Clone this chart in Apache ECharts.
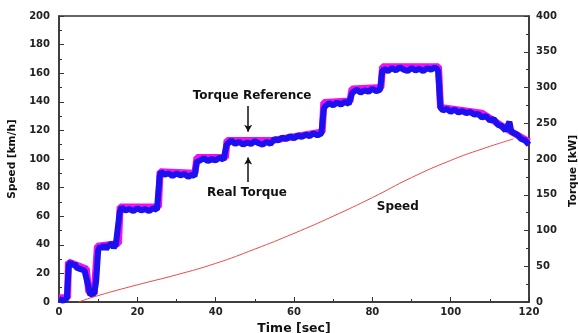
<!DOCTYPE html>
<html>
<head>
<meta charset="utf-8">
<script src="https://cdn.jsdelivr.net/npm/echarts@6/dist/echarts.min.js"></script>
<style>
  html, body { margin: 0; padding: 0; background: #fff; }
  #chart { width: 578px; height: 333px; }
</style>
</head>
<body>
<div id="chart"></div>
<script>
// speed curve, km/h (left axis)
const speedTime = [5, 10, 20, 30, 40, 50, 60, 70, 80, 90, 100, 108, 116];
const speedVal = [0, 4.5, 12, 19, 27, 37, 48, 60, 73, 87, 99, 107, 114];

// real torque, kW (right axis)
const realTime = [
  0, 1, 2, 2.5, 3, 3.5, 4, 4.5, 5, 5.5, 6, 6.5, 7, 7.5, 8, 8.5, 9, 9.5,
  10, 10.5, 11, 11.5, 12, 12.5, 13, 13.5, 14, 14.5, 15, 15.5,
  16, 17, 18, 19, 20, 21, 22, 23, 24, 25, 25.7,
  26, 27, 28, 29, 30, 31, 32, 33, 34, 34.6, 35.2,
  36, 37, 38, 39, 40, 41, 42, 42.8,
  43, 44, 45, 46, 47, 48, 49, 50, 51, 52, 53, 54,
  55, 56, 57, 58, 59, 60, 61, 62, 63, 64, 65, 66, 67, 67.6,
  68, 69, 70, 71, 72, 73, 74, 74.8,
  75, 76, 77, 78, 79, 80, 81, 82, 82.5,
  83, 84, 85, 86, 87, 88, 89, 90, 91, 92, 93, 94, 95, 96, 96.8, 97.4,
  98, 99, 100, 101, 102, 103, 104, 105, 106, 107, 108, 109,
  110, 111, 112, 113, 114, 115, 115.5, 116, 117, 118, 119, 120
];
const realTorque = [
  4, 2, 5, 52, 56, 50, 54, 48, 50, 46, 48, 44, 42, 22, 10, 8, 12, 30,
  72, 78, 74, 80, 74, 78, 76, 82, 76, 80, 78, 126,
  132, 128, 130, 127, 131, 128, 130, 127, 131, 129, 176,
  182, 178, 180, 176, 180, 177, 179, 175, 178, 176, 196,
  198, 201, 197, 200, 198, 202, 199, 220,
  222, 226, 221, 224, 220, 223, 221, 225, 222, 220, 224, 221,
  228, 226, 230, 228, 232, 229, 233, 231, 234, 232, 236, 233, 236, 270,
  274, 278, 275, 279, 276, 280, 277, 292,
  294, 297, 293, 296, 294, 298, 295, 297, 322,
  326, 323, 327, 324, 328, 325, 323, 327, 324, 326, 323, 327, 325, 328, 324, 272,
  268, 270, 266, 269, 265, 267, 264, 266, 262, 263, 258, 260,
  254, 256, 248, 246, 240, 252, 238, 236, 234, 228, 226, 220
];

// torque reference, kW (right axis)
const refTime = [0, 2.2, 2.4, 7, 7.6, 9, 9.8, 15.2, 15.6, 25.4, 25.8, 34.7, 35.2, 42.5, 42.9, 54.5, 67.2, 67.6, 74.3, 74.8, 82.2, 82.6, 96.9, 97.4, 108, 114, 120];
const refTorque = [6, 6, 56, 46, 14, 12, 78, 82, 133, 133, 182, 180, 202, 202, 226, 226, 238, 279, 281, 298, 300, 329, 329, 272, 264, 243, 224];

const xTicks = [0, 20, 40, 60, 80, 100, 120];

const pairs = (xs, ys) => xs.map((x, i) => [x, ys[i]]);

const font = "DejaVu Sans";
const axisColor = "#333";
const labelStyle = { color: "#222", fontFamily: font, fontWeight: "bold", fontSize: 10 };
const titleStyle = { color: "#111", fontFamily: font, fontWeight: "bold", fontSize: 10.5 };
const annoLabel = { show: true, color: "#111", fontFamily: font, fontWeight: "bold", fontSize: 12, position: "inside" };

const chart = echarts.init(document.getElementById("chart"));

const option = {
  animation: false,
  backgroundColor: "#fff",
  grid: {
    left: 59, right: 49, top: 16, bottom: 31,
    outerBoundsMode: "none",
    containLabel: false,
    show: true, borderColor: axisColor, borderWidth: 1.5,
  },
  xAxis: {
    type: "value",
    min: 0, max: 120, interval: 20,
    name: "Time [sec]",
    nameLocation: "middle",
    nameGap: 14,
    nameTextStyle: { ...titleStyle, fontSize: 12.5 },
    axisLine: { lineStyle: { color: axisColor, width: 1.5 } },
    axisTick: { inside: true, length: 5, lineStyle: { color: axisColor } },
    minorTick: { show: true, splitNumber: 2, length: 3, lineStyle: { color: axisColor } },
    axisLabel: { ...labelStyle, margin: 5, formatter: v => (xTicks.includes(v) ? String(v) : "") },
    splitLine: { show: false },
  },
  yAxis: [
    {
      type: "value",
      min: 0, max: 200, interval: 20,
      name: "Speed [km/h]",
      nameLocation: "middle",
      nameRotate: 90,
      nameGap: 35,
      nameTextStyle: titleStyle,
      axisLine: { show: true, lineStyle: { color: axisColor, width: 1.5 } },
      axisTick: { show: true, inside: true, length: 5, lineStyle: { color: axisColor } },
      minorTick: { show: true, splitNumber: 2, length: 3, lineStyle: { color: axisColor } },
      axisLabel: { ...labelStyle, margin: 9 },
      splitLine: { show: false },
    },
    {
      type: "value",
      position: "right",
      min: 0, max: 400, interval: 50,
      name: "Torque [kW]",
      nameLocation: "middle",
      nameRotate: 90,
      nameGap: 28,
      nameTextStyle: { ...titleStyle, padding: [0, 24, 0, 0] },
      axisLine: { show: true, lineStyle: { color: axisColor, width: 1.5 } },
      axisTick: { show: true, inside: true, length: 5, lineStyle: { color: axisColor } },
      minorTick: { show: true, splitNumber: 2, length: 3, lineStyle: { color: axisColor } },
      axisLabel: { ...labelStyle, margin: 7 },
      splitLine: { show: false },
    },
  ],
  series: [
    {
      name: "Torque Reference",
      type: "line",
      yAxisIndex: 1,
      data: pairs(refTime, refTorque),
      showSymbol: false,
      lineStyle: { color: "#f010f0", width: 7 },
      z: 2,
    },
    {
      name: "Real Torque",
      type: "line",
      yAxisIndex: 1,
      data: pairs(realTime, realTorque),
      showSymbol: false,
      lineStyle: { color: "#1a10f0", width: 6 },
      z: 3,
    },
    {
      name: "Speed",
      type: "line",
      yAxisIndex: 0,
      data: pairs(speedTime, speedVal),
      smooth: true,
      showSymbol: false,
      lineStyle: { color: "#f04848", width: 1 },
      z: 4,
      markLine: {
        silent: true,
        symbol: ["none", "arrow"],
        symbolSize: [6, 7],
        lineStyle: { color: "#111", width: 1.5, type: "solid" },
        label: { show: false },
        data: [
          [{ coord: [48.3, 137] }, { coord: [48.3, 119] }],
          [{ coord: [48.3, 84] }, { coord: [48.3, 101] }],
        ],
      },
      markPoint: {
        silent: true,
        symbol: "circle",
        symbolSize: 1,
        itemStyle: { color: "rgba(0,0,0,0)" },
        label: annoLabel,
        data: [
          { coord: [49.3, 144], value: "Torque Reference" },
          { coord: [48, 76], value: "Real Torque" },
          { coord: [86.5, 66.5], value: "Speed" },
        ],
      },
    },
  ],
};

chart.setOption(option);
</script>
</body>
</html>
